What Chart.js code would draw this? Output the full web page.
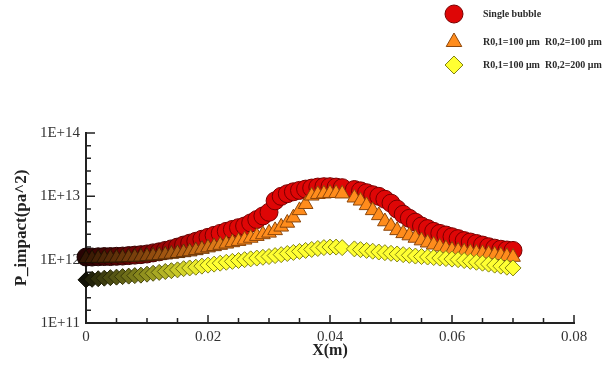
<!DOCTYPE html>
<html>
<head>
<meta charset="utf-8">
<script src="https://cdn.jsdelivr.net/npm/chart.js@4.4.1/dist/chart.umd.min.js"></script>
<style>
  html, body { margin: 0; padding: 0; background: #fff; }
  #wrap { width: 614px; height: 367px; position: relative; }
</style>
</head>
<body>
<div id="wrap"><canvas id="chart"></canvas></div>
<script>
// ─── Data ──────────────────────────────────────────────────
const X_M = [
  0, 0.001, 0.002, 0.003, 0.004, 0.005, 0.006, 0.007, 0.008, 0.009,
  0.010, 0.011, 0.012, 0.013, 0.014, 0.015, 0.016, 0.017, 0.018, 0.019,
  0.020, 0.021, 0.022, 0.023, 0.024, 0.025, 0.026, 0.027, 0.028, 0.029,
  0.030, 0.031, 0.032, 0.033, 0.034, 0.035, 0.036, 0.037, 0.038, 0.039,
  0.040, 0.041, 0.042, 0.043, 0.044, 0.045, 0.046, 0.047, 0.048, 0.049,
  0.050, 0.051, 0.052, 0.053, 0.054, 0.055, 0.056, 0.057, 0.058, 0.059,
  0.060, 0.061, 0.062, 0.063, 0.064, 0.065, 0.066, 0.067, 0.068, 0.069,
  0.070
];

const SINGLE_BUBBLE = [
  1.10e12, 1.10e12, 1.11e12, 1.12e12, 1.12e12, 1.13e12, 1.14e12, 1.16e12, 1.18e12, 1.20e12,
  1.23e12, 1.28e12, 1.33e12, 1.40e12, 1.48e12, 1.58e12, 1.70e12, 1.82e12, 1.95e12, 2.10e12,
  2.25e12, 2.42e12, 2.60e12, 2.80e12, 3.00e12, 3.20e12, 3.40e12, 3.80e12, 4.30e12, 4.90e12,
  5.60e12, 8.50e12, 1.00e13, 1.10e13, 1.18e13, 1.24e13, 1.30e13, 1.35e13, 1.40e13, 1.42e13,
  1.42e13, 1.40e13, 1.37e13, null, 1.28e13, 1.22e13, 1.14e13, 1.06e13, 1.00e13, 9.00e12,
  7.80e12, 6.30e12, 5.20e12, 4.50e12, 3.90e12, 3.40e12, 3.10e12, 2.80e12, 2.60e12, 2.45e12,
  2.30e12, 2.15e12, 2.00e12, 1.90e12, 1.80e12, 1.70e12, 1.60e12, 1.52e12, 1.46e12, 1.42e12,
  1.40e12
];

const R_100_100 = [
  1.05e12, 1.05e12, 1.06e12, 1.06e12, 1.07e12, 1.07e12, 1.08e12, 1.09e12, 1.10e12, 1.11e12,
  1.13e12, 1.15e12, 1.17e12, 1.20e12, 1.23e12, 1.26e12, 1.30e12, 1.34e12, 1.40e12, 1.47e12,
  1.55e12, 1.62e12, 1.70e12, 1.78e12, 1.87e12, 1.96e12, 2.06e12, 2.20e12, 2.35e12, 2.50e12,
  2.65e12, 2.90e12, 3.30e12, 3.80e12, 4.60e12, 6.00e12, 7.50e12, 1.02e13, 1.08e13, 1.10e13,
  1.12e13, 1.12e13, 1.10e13, null, 9.50e12, 8.50e12, 7.20e12, 6.00e12, 5.00e12, 4.00e12,
  3.40e12, 2.90e12, 2.60e12, 2.40e12, 2.20e12, 2.00e12, 1.85e12, 1.72e12, 1.60e12, 1.50e12,
  1.42e12, 1.38e12, 1.34e12, 1.31e12, 1.28e12, 1.26e12, 1.23e12, 1.20e12, 1.17e12, 1.13e12,
  1.10e12
];

const R_100_200 = [
  4.8e11, 4.9e11, 5.0e11, 5.1e11, 5.2e11, 5.3e11, 5.4e11, 5.5e11, 5.6e11, 5.7e11,
  5.9e11, 6.1e11, 6.3e11, 6.5e11, 6.7e11, 6.9e11, 7.2e11, 7.4e11, 7.6e11, 7.9e11,
  8.2e11, 8.5e11, 8.8e11, 9.1e11, 9.4e11, 9.7e11, 1.00e12, 1.03e12, 1.06e12, 1.09e12,
  1.12e12, 1.16e12, 1.20e12, 1.25e12, 1.30e12, 1.35e12, 1.40e12, 1.45e12, 1.50e12, 1.55e12,
  1.58e12, 1.58e12, 1.55e12, null, 1.48e12, 1.44e12, 1.40e12, 1.36e12, 1.32e12, 1.29e12,
  1.26e12, 1.23e12, 1.20e12, 1.17e12, 1.14e12, 1.12e12, 1.10e12, 1.08e12, 1.06e12, 1.04e12,
  1.02e12, 1.00e12, 9.7e11, 9.4e11, 9.1e11, 8.8e11, 8.5e11, 8.2e11, 7.9e11, 7.6e11,
  7.4e11
];

const SERIES_LABELS = ['Single bubble', 'R0,1=100 \u03bcm  R0,2=100 \u03bcm', 'R0,1=100 \u03bcm  R0,2=200 \u03bcm'];
const X_TICK_LABELS = ['0', '0.02', '0.04', '0.06', '0.08'];
const Y_DECADES = [1e11, 1e12, 1e13, 1e14];
const Y_TICK_LABELS = ['1E+11', '1E+12', '1E+13', '1E+14'];

// ─── Styling helpers ───────────────────────────────────────
const SERIF = "'Liberation Serif', 'Times New Roman', serif";

function mix(a, b, t) {
  const k = Math.max(0, Math.min(1, t));
  return `rgb(${a.map((v, i) => Math.round(v + (b[i] - v) * k)).join(',')})`;
}

// markers darken towards x = 0, like the colour-mapped original
function shade(dark, bright, span) {
  return (ctx) => {
    const x = ctx.raw ? ctx.raw.x : span;
    return mix(dark, bright, Math.pow(x / span, 0.9));
  };
}

const toPoints = (ys) => X_M.map((x, i) => ({ x, y: ys[i] }));

const STYLES = [
  { style: 'circle',   radius: 9,   fill: [40, 4, 4],  bright: [222, 6, 6],    edge: [20, 0, 0], edgeBright: [120, 0, 0], span: 0.022 },
  { style: 'triangle', radius: 8.5, fill: [50, 22, 4], bright: [255, 140, 28], edge: [20, 10, 0], edgeBright: [140, 70, 10], span: 0.026 },
  { style: 'rectRot',  radius: 8,   fill: [18, 18, 8], bright: [255, 255, 50], edge: [10, 10, 0], edgeBright: [130, 130, 20], span: 0.02 },
];

const datasets = [SINGLE_BUBBLE, R_100_100, R_100_200].map((ys, i) => {
  const s = STYLES[i];
  return {
    label: SERIES_LABELS[i],
    data: toPoints(ys),
    showLine: false,
    order: 3 - i,
    pointStyle: s.style,
    pointRadius: s.radius,
    pointBorderWidth: 1,
    pointBackgroundColor: shade(s.fill, s.bright, s.span),
    pointBorderColor: shade(s.edge, s.edgeBright, s.span),
    clip: false,
  };
});

// ─── Inward tick marks + legend (drawn by hand) ───────────
const frame = {
  id: 'frame',
  beforeDatasetsDraw(chart) {
    const { ctx, chartArea: a, scales: { x, y } } = chart;
    ctx.save();
    ctx.strokeStyle = '#222';
    ctx.lineWidth = 1.5;
    ctx.beginPath();
    x.ticks.forEach(t => {
      const px = x.getPixelForValue(t.value);
      const major = X_TICK_LABELS.includes(t.label);
      ctx.moveTo(px, a.bottom);
      ctx.lineTo(px, a.bottom - (major ? 8 : 5));
    });
    y.ticks.forEach(t => {
      const py = y.getPixelForValue(t.value);
      const major = Y_TICK_LABELS.includes(t.label);
      ctx.moveTo(a.left, py);
      ctx.lineTo(a.left + (major ? 9 : 5), py);
    });
    ctx.stroke();
    ctx.restore();
  },
  afterDraw(chart) {
    const { ctx } = chart;
    const rows = [14, 42, 65];
    ctx.save();
    STYLES.forEach((s, i) => {
      ctx.fillStyle = mix(s.fill, s.bright, 1);
      ctx.strokeStyle = mix(s.edge, s.edgeBright, 1);
      ctx.lineWidth = 1;
      Chart.helpers.drawPoint(ctx, { pointStyle: s.style, radius: 9, rotation: 0, borderWidth: 1 }, 454, rows[i]);
      ctx.fillStyle = '#2a2a2a';
      ctx.font = `bold 10px ${SERIF}`;
      ctx.textBaseline = 'middle';
      ctx.textAlign = 'left';
      ctx.fillText(SERIES_LABELS[i], 483, rows[i]);
    });
    ctx.restore();
  },
};

// ─── Chart ─────────────────────────────────────────────────
new Chart(document.getElementById('chart'), {
  type: 'scatter',
  data: { datasets },
  plugins: [frame],
  options: {
    responsive: true,
    maintainAspectRatio: false,
    animation: false,
    layout: { padding: { top: 133, right: 40, left: 0, bottom: 0 } },
    plugins: { legend: { display: false }, tooltip: { enabled: false } },
    scales: {
      x: {
        type: 'linear',
        min: 0,
        max: 0.08,
        afterFit: (s) => { s.height = 44; },
        grid: { display: false, drawTicks: false },
        border: { display: true, color: '#222', width: 2 },
        ticks: {
          stepSize: 0.005,
          autoSkip: false,
          maxRotation: 0,
          padding: 5,
          color: '#333',
          font: { size: 15, family: SERIF },
          callback: (v) => {
            const k = Math.round(v / 0.02);
            return Math.abs(v - k * 0.02) < 1e-9 ? X_TICK_LABELS[k] : '';
          },
        },
        title: {
          display: true,
          text: 'X(m)',
          color: '#222',
          font: { size: 16, weight: 'bold', family: SERIF },
          padding: { top: 0, bottom: 7 },
        },
      },
      y: {
        type: 'logarithmic',
        min: 1e11,
        max: 1e14,
        afterFit: (s) => { s.width = 86; },
        afterBuildTicks: (s) => {
          const ticks = [];
          for (let k = 0; k <= 15; k++) ticks.push({ value: Math.pow(10, 11 + k / 5) });
          s.ticks = ticks;
        },
        grid: { display: false, drawTicks: false },
        border: { display: true, color: '#222', width: 2 },
        ticks: {
          autoSkip: false,
          padding: 6,
          color: '#333',
          font: { size: 15, family: SERIF },
          callback: (v) => {
            const i = Y_DECADES.findIndex(d => Math.abs(v / d - 1) < 1e-6);
            return i >= 0 ? Y_TICK_LABELS[i] : '';
          },
        },
        title: {
          display: true,
          text: 'P_impact(pa^2)',
          color: '#222',
          font: { size: 17, weight: 'bold', family: SERIF },
          padding: { top: 11, bottom: 0 },
        },
      },
    },
  },
});
</script>
</body>
</html>
